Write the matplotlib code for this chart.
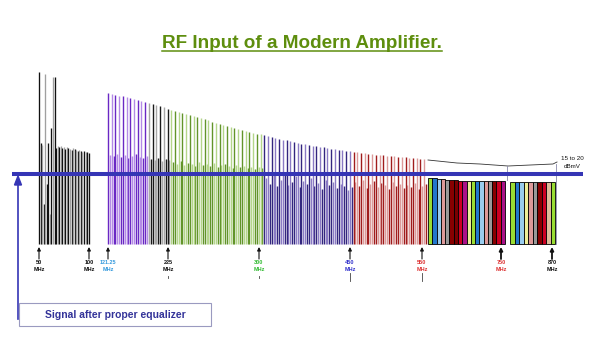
import matplotlib
matplotlib.use("Agg")
import numpy as np
import matplotlib.pyplot as plt
from matplotlib.patches import Rectangle, Polygon

plt.rcParams['font.family'] = ['Liberation Sans', 'DejaVu Sans']

# ---------------- data ----------------
title = "RF Input of a Modern Amplifier."
freq_labels = ["50", "100", "121.25", "225", "300", "450", "550", "750", "870"]
freq_label_colors = ["#111111", "#111111", "#3399dd", "#111111", "#33bb33",
                     "#3333cc", "#dd3333", "#dd3333", "#111111"]

# low band (50-100 MHz) carrier levels
low_band_levels = [172, 101, 99, 40, 170, 60, 101, 30, 116, 167, 167, 96, 98, 97,
                   98, 96, 97, 95, 97, 96, 95, 94, 96, 95, 94, 93, 94, 93, 92, 93,
                   92, 92, 91]
low_band_shades = ["k", "k", "g", "k", "g", "k", "k", "g", "k", "g", "k", "k", "g",
                   "k", "g", "k", "g", "k", "g", "k", "g", "k", "g", "k", "g", "k",
                   "g", "k", "g", "k", "g", "k", "k"]

# analog channels (121.25-550 MHz): video carrier peaks and lower carriers
analog_peak_levels = [
    151, 150, 149, 148, 148, 147, 146, 145, 144, 143, 142,
    141, 140, 139, 138, 137, 135,
    134, 133, 132, 131, 130, 129, 128, 127, 126, 125, 124, 122, 121, 120, 119,
    118, 117, 116, 115, 114, 113, 112, 111, 110, 110,
    109, 108, 107, 106, 105, 104, 104, 103, 102, 101, 100, 100, 99, 98, 98, 97,
    97, 96, 95, 95, 94, 94, 93, 93,
    92, 92, 91, 91, 90, 90, 89, 89, 89, 88, 88, 88, 87, 87, 87, 86, 86, 86, 85, 85]
analog_sub_levels = [
    89, 88, 90, 87, 89, 86, 88, 90, 87, 86, 88,
    85, 84, 86, 83, 85, 84,
    82, 80, 83, 79, 81, 80, 78, 82, 79, 80, 78, 81, 77, 79, 80, 78, 76, 79, 77,
    78, 76, 77, 75, 77, 76,
    66, 60, 72, 58, 64, 70, 59, 62, 68, 57, 63, 60, 66, 58, 61, 55, 64, 59, 62,
    56, 60, 58, 54, 57,
    62, 58, 64, 56, 60, 63, 57, 61, 59, 55, 62, 58, 60, 56, 59, 57, 61, 55, 58, 60]
analog_band_sizes = [11, 6, 25, 24, 20]
analog_band_colors = [("#6a28c4", "#b48ae6"), ("#1a1a1a", "#a8a8a8"),
                      ("#62942a", "#b4d68a"), ("#33267f", "#8a7ac4"),
                      ("#a01c1c", "#dc9a9a")]

# digital channels (550-870 MHz)
digital_levels_a = [66, 66, 65, 65, 64, 64, 64, 63, 63, 63, 63, 63, 63, 63, 63, 63, 63, 63]
digital_colors_a = ["#99dd33", "#2277cc", "#99ccee", "#dd9999", "#999999", "#880000",
                    "#7a0000", "#cc0022", "#aa1188", "#eeee99", "#99dd33", "#2277cc",
                    "#99ccee", "#dd9999", "#999999", "#880000", "#cc0022", "#aa1188"]
digital_levels_b = [62, 62, 62, 62, 62, 62, 62, 62, 62, 62]
digital_colors_b = ["#99dd33", "#2277cc", "#99ccee", "#eeee99", "#dd9999", "#999999",
                    "#880000", "#cc0022", "#ddbb99", "#99dd33"]

tilt_levels = [84, 81, 80, 78, 80, 82]
equalized_level = 70

# ---------------- layout ----------------
fig = plt.figure(figsize=(6.0, 3.51), dpi=100)
ax = fig.add_axes([0, 0, 1, 1])
ax.set_xlim(0, 600)
ax.set_ylim(-107, 244)
ax.axis("off")

# low band
lx = 39 + 1.55 * np.arange(len(low_band_levels))
shade_map = {"k": "#111111", "g": "#a0a0a0"}
ax.vlines(lx, 0, low_band_levels, colors=[shade_map[s] for s in low_band_shades], lw=0.95)

# analog band
n = len(analog_peak_levels)
px = 108 + 3.72 * np.arange(n)
band_idx = np.repeat(np.arange(len(analog_band_sizes)), analog_band_sizes)
peak_cols = [analog_band_colors[b][i % 2] for i, b in enumerate(band_idx)]
sub_cols = [analog_band_colors[b][(i + 1) % 2] for i, b in enumerate(band_idx)]
ax.vlines(px + 1.86, 0, analog_sub_levels, colors=sub_cols, lw=1.05)
ax.vlines(px, 0, analog_peak_levels, colors=peak_cols, lw=1.0)

# digital bars
wa = (505 - 428) / len(digital_levels_a)
ax.bar(428 + wa * np.arange(len(digital_levels_a)), digital_levels_a, width=wa,
       align="edge", color=digital_colors_a, edgecolor="black", lw=0.6)
wb = (555 - 510) / len(digital_levels_b)
ax.bar(510 + wb * np.arange(len(digital_levels_b)), digital_levels_b, width=wb,
       align="edge", color=digital_colors_b, edgecolor="black", lw=0.6)

# tilt curve above digital
ax.plot([428, 457, 480, 508, 553, 557], tilt_levels, color="#333333", lw=0.6)
ax.plot([507, 507], [78, 64], color="#8888aa", lw=0.6)
ax.plot([556, 556], [80, 0], color="#8888aa", lw=0.6)
ax.text(572, 86, "15 to 20", ha="center", va="center", fontsize=4.5, color="#111111")
ax.text(572, 77, "dBmV", ha="center", va="center", fontsize=4.5, color="#111111")

# equalized level line
blue = "#3535b5"
ax.plot([12, 583], [equalized_level, equalized_level], color=blue, lw=2.9,
        solid_capstyle="butt", zorder=5)
ax.plot([18, 18], [60, -75], color=blue, lw=1.2, zorder=5)
ax.add_patch(Polygon([[18, 68], [14.5, 59], [21.5, 59]], closed=True, color=blue, zorder=5))

# frequency markers
label_x = [39, 89, 108, 168, 259, 350, 422, 501, 552]
for i, (x, lab, c) in enumerate(zip(label_x, freq_labels, freq_label_colors)):
    lw = 1.3 if i >= 7 else 0.8
    ax.annotate("", xy=(x, -3), xytext=(x, -15),
                arrowprops=dict(arrowstyle="-|>", color="#111111", lw=lw,
                                mutation_scale=5, shrinkA=0, shrinkB=0))
    ax.text(x, -16.5, f"{lab}\nMHz", ha="center", va="top", fontsize=4,
            fontweight="bold", color=c, linespacing=1.45)
for x in [168, 259]:
    ax.plot([x, x], [-32, -34], color="#444444", lw=0.6)
for x in [350, 422]:
    ax.plot([x, x], [-29, -37], color="#444444", lw=0.6)

# label box
ax.add_patch(Rectangle((19, -82), 192, 23, facecolor="white", edgecolor="#9a9ac0",
                       lw=0.8, zorder=6))
ax.text(115, -70.5, "Signal after proper equalizer", ha="center", va="center",
        fontsize=7.5, fontweight="bold", color="#333399", zorder=7)

# title with underline
t = ax.text(302, 196, title, ha="center", va="baseline", fontsize=13.6,
            fontweight="bold", color="#5e8e0e")
fig.canvas.draw()
bb = t.get_window_extent().transformed(ax.transData.inverted())
ax.plot([bb.x0, bb.x1], [193, 193], color="#5e8e0e", lw=1.1)

fig.savefig("out.png", dpi=100)
